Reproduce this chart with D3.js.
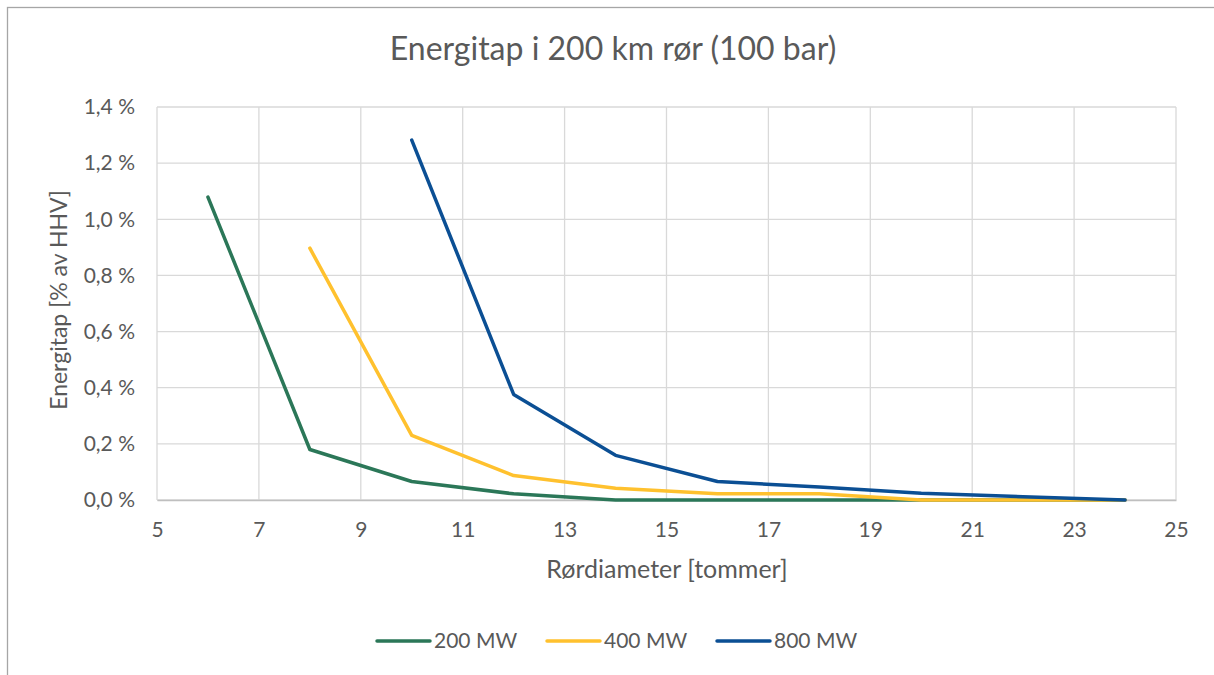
<!DOCTYPE html>
<html>
<head>
<meta charset="utf-8">
<script src="https://cdn.jsdelivr.net/npm/d3@7"></script>
<style>
  body { margin: 0; background: #fff; }
  text { font-family: Lato, "Open Sans", sans-serif; fill: #595959; }
</style>
</head>
<body>
<div id="chart"></div>
<script>
var svgWidth = 1214;
var svgHeight = 675;

var margin = { top: 107, right: 38, bottom: 175, left: 157 };
var width = 1176 - margin.left;
var height = 500 - margin.top;

// data (energy loss in %)
var diameters = [6, 8, 10, 12, 14, 16, 18, 20, 22, 24];
var mw200 = [1.079, 0.180, 0.066, 0.022, 0.000, 0.000, 0.000, 0.000, 0.000, 0.000];
var mw400 = [null, 0.897, 0.230, 0.087, 0.042, 0.022, 0.022, 0.000, 0.000, 0.000];
var mw800 = [null, null, 1.282, 0.376, 0.159, 0.066, 0.046, 0.024, 0.012, 0.000];

var seriesNames = ["200 MW", "400 MW", "800 MW"];
var seriesColors = ["#2B7758", "#FFC12E", "#0B4F94"];
var seriesValues = [mw200, mw400, mw800];

var xTicks = [5, 7, 9, 11, 13, 15, 17, 19, 21, 23, 25];
var yTicks = [0, 0.2, 0.4, 0.6, 0.8, 1.0, 1.2, 1.4];

var svg = d3.select("#chart")
  .append("svg")
  .attr("width", svgWidth)
  .attr("height", svgHeight);

// outer chart border (right and bottom edges fall outside the frame)
svg.append("rect")
  .attr("x", 7.5)
  .attr("y", 7.5)
  .attr("width", 1220)
  .attr("height", 700)
  .attr("fill", "none")
  .attr("stroke", "#A6A6A6")
  .attr("stroke-width", 1.3);

var chartGroup = svg.append("g")
  .attr("transform", `translate(${margin.left}, ${margin.top})`);

var xScale = d3.scaleLinear().domain([5, 25]).range([0, width]);
var yScale = d3.scaleLinear().domain([0, 1.4]).range([height, 0]);

// gridlines
chartGroup.append("g")
  .selectAll("line")
  .data(xTicks)
  .enter()
  .append("line")
  .attr("x1", d => xScale(d))
  .attr("x2", d => xScale(d))
  .attr("y1", 0)
  .attr("y2", height)
  .attr("stroke", "#D9D9D9")
  .attr("stroke-width", 1.3);

chartGroup.append("g")
  .selectAll("line")
  .data(yTicks)
  .enter()
  .append("line")
  .attr("x1", 0)
  .attr("x2", width)
  .attr("y1", d => yScale(d))
  .attr("y2", d => yScale(d))
  .attr("stroke", "#D9D9D9")
  .attr("stroke-width", 1.3);

// x axis
var bottomAxis = d3.axisBottom(xScale).tickValues(xTicks).tickSize(0).tickPadding(22);
var xAxis = chartGroup.append("g")
  .attr("transform", `translate(0, ${height})`)
  .call(bottomAxis);
xAxis.select(".domain").attr("stroke", "#BFBFBF").attr("stroke-width", 1.5);
xAxis.selectAll("text")
  .style("font-size", "21px")
  .style("font-family", "Lato, sans-serif")
  .attr("fill", "#595959")
  .attr("dy", "0.71em");

// y axis
var fmt = d => d.toFixed(1).replace(".", ",") + " %";
var leftAxis = d3.axisLeft(yScale).tickValues(yTicks).tickSize(0).tickPadding(22).tickFormat(fmt);
var yAxis = chartGroup.append("g").call(leftAxis);
yAxis.select(".domain").remove();
yAxis.selectAll("text")
  .style("font-size", "21px")
  .style("font-family", "Lato, sans-serif")
  .attr("fill", "#595959");

// lines
var line = d3.line()
  .defined(d => d[1] !== null)
  .x(d => xScale(d[0]))
  .y(d => yScale(d[1]));

seriesValues.forEach(function(vals, i) {
  chartGroup.append("path")
    .datum(diameters.map((x, j) => [x, vals[j]]))
    .attr("fill", "none")
    .attr("stroke", seriesColors[i])
    .attr("stroke-width", 3.5)
    .attr("stroke-linejoin", "round")
    .attr("stroke-linecap", "round")
    .attr("d", line);
});

// title
svg.append("text")
  .attr("x", 613)
  .attr("y", 60)
  .attr("text-anchor", "middle")
  .style("font-size", "32px")
  .text("Energitap i 200 km rør (100 bar)");

// axis titles
svg.append("text")
  .attr("x", 667)
  .attr("y", 578)
  .attr("text-anchor", "middle")
  .style("font-size", "25px")
  .text("Rørdiameter [tommer]");

svg.append("text")
  .attr("transform", "rotate(-90)")
  .attr("x", -300)
  .attr("y", 67)
  .attr("text-anchor", "middle")
  .style("font-size", "23px")
  .text("Energitap [% av HHV]");

// legend
var legendX = [377, 547, 717];
var legend = svg.append("g");
seriesNames.forEach(function(name, i) {
  legend.append("line")
    .attr("x1", legendX[i])
    .attr("x2", legendX[i] + 53)
    .attr("y1", 641)
    .attr("y2", 641)
    .attr("stroke", seriesColors[i])
    .attr("stroke-width", 3.5)
    .attr("stroke-linecap", "round");
  legend.append("text")
    .attr("x", legendX[i] + 57)
    .attr("y", 648)
    .style("font-size", "21px")
    .text(name);
});
</script>
</body>
</html>
